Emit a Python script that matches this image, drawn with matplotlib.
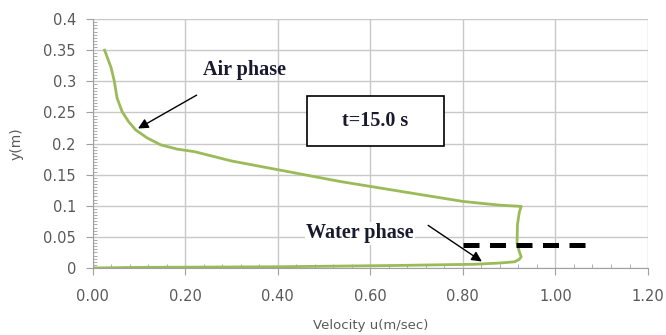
import numpy as np
import matplotlib
matplotlib.use("Agg")
import matplotlib.pyplot as plt
from matplotlib.patches import Rectangle
from matplotlib.ticker import MultipleLocator

# velocity profile u(y) at t = 15 s, traced from the bed upwards
velocity = [0.000, 0.100, 0.400, 0.650, 0.825, 0.880, 0.912, 0.922, 0.926,
            0.922, 0.917, 0.918, 0.922, 0.926, 0.880, 0.839, 0.800, 0.700,
            0.535, 0.400, 0.300, 0.220, 0.183, 0.147, 0.118, 0.093, 0.078,
            0.064, 0.053, 0.047, 0.040, 0.026]
height = [0.000, 0.001, 0.002, 0.004, 0.006, 0.008, 0.010, 0.014, 0.018,
          0.026, 0.040, 0.070, 0.090, 0.099, 0.101, 0.104, 0.107, 0.119,
          0.139, 0.158, 0.172, 0.187, 0.191, 0.198, 0.209, 0.222, 0.235,
          0.251, 0.273, 0.300, 0.322, 0.350]

# free surface level (dashed)
surface_x = [0.80, 1.07]
surface_y = [0.0375, 0.0375]

x_ticks = [0.0, 0.2, 0.4, 0.6, 0.8, 1.0, 1.2]
x_labels = ["0.00", "0.20", "0.40", "0.60", "0.80", "1.00", "1.20"]
y_ticks = [0.0, 0.05, 0.1, 0.15, 0.2, 0.25, 0.3, 0.35, 0.4]
y_labels = ["0", "0.05", "0.1", "0.15", "0.2", "0.25", "0.3", "0.35", "0.4"]

green = "#9bbb59"
grey_txt = "#595959"

fig = plt.figure(figsize=(6.66, 3.35), dpi=100)
ax = fig.add_axes([0.139, 0.2, 0.834, 0.743])

ax.plot(velocity, height, color=green, lw=2, solid_joinstyle="round")
ax.plot(surface_x, surface_y, color="black", lw=3.6, ls=(0, (3.2, 2.1)))

ax.set_xlim(0, 1.2)
ax.set_ylim(0, 0.4)
ax.set_xticks(x_ticks)
ax.set_xticklabels(x_labels)
ax.set_yticks(y_ticks)
ax.set_yticklabels(y_labels)
ax.xaxis.set_minor_locator(MultipleLocator(0.04))
ax.yaxis.set_minor_locator(MultipleLocator(0.005))

ax.grid(True, which="major", color="#c8c8c8", lw=1)
ax.set_axisbelow(True)
for s in ["top", "right"]:
    ax.spines[s].set_visible(False)
for s in ["left", "bottom"]:
    ax.spines[s].set_color("#a0a0a0")
ax.tick_params(which="major", direction="out", length=5, color="#a0a0a0",
               labelsize=10.5, labelcolor=grey_txt)
ax.tick_params(which="minor", direction="in", length=3, color="#a0a0a0")
ax.tick_params(axis="x", pad=10)
ax.tick_params(axis="y", pad=7)

ax.set_xlabel("Velocity u(m/sec)", fontsize=9.5, color=grey_txt, labelpad=11)
ax.set_ylabel("y(m)", fontsize=10, color=grey_txt, labelpad=14)

serif = dict(family="Liberation Serif", weight="bold", fontsize=14.5, color="#1a1a2e")
ax.text(0.328, 0.318, "Air phase", ha="center", va="center", **serif)
ax.annotate("", xy=(0.093, 0.222), xytext=(0.23, 0.28),
            arrowprops=dict(arrowstyle="-|>", color="black", lw=1, mutation_scale=15))
ax.text(0.578, 0.056, "Water phase", ha="center", va="center",
        bbox=dict(facecolor="white", edgecolor="none", pad=1), **serif)
ax.annotate("", xy=(0.846, 0.008), xytext=(0.72, 0.071),
            arrowprops=dict(arrowstyle="-|>", color="black", lw=1, mutation_scale=15))

ax.add_patch(Rectangle((0.463, 0.196), 0.296, 0.081, facecolor="white",
                       edgecolor="black", lw=1.2, zorder=3))
ax.text(0.611, 0.236, "t=15.0 s", ha="center", va="center", zorder=4, **serif)

fig.savefig("out.png", dpi=100)
